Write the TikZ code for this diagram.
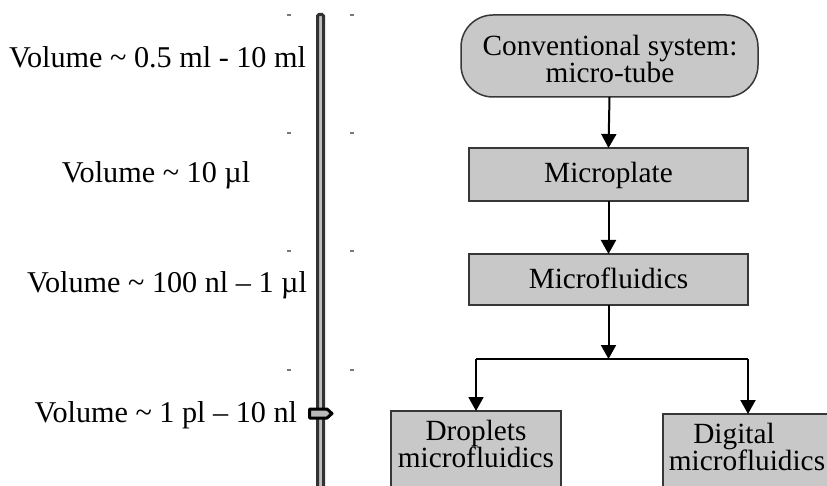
\documentclass[tikz,border=0pt]{standalone}
\usepackage{fontspec}
\setmainfont{Liberation Serif}
\usetikzlibrary{arrows.meta}
\definecolor{boxfill}{RGB}{200,200,200}
\definecolor{boxline}{RGB}{55,55,55}
\definecolor{barfill}{RGB}{190,190,190}
\definecolor{barline}{RGB}{50,50,50}
\definecolor{tickcol}{RGB}{120,120,120}
\tikzset{
  every node/.style={font=\fontsize{29.3}{27}\selectfont, inner sep=0pt, outer sep=0pt},
  lbl/.style={anchor=base},
  vlbl/.style={anchor=base east, font=\fontsize{30.2}{30}\selectfont},
  stagebox/.style={draw=boxline, fill=boxfill, line width=1.5pt},
  flow/.style={-{Triangle[width=15pt,length=14pt]}, line width=2pt, draw=black},
  link/.style={line width=2pt, draw=black},
  tick/.style={draw=tickcol, line width=1.2pt},
}
\begin{document}
\begin{tikzpicture}[x=1pt,y=-1pt]
\useasboundingbox (0,0) rectangle (827,486);
\clip (0,0) rectangle (827,486);

% volume scale bar
\draw[draw=barline, fill=barfill, line width=3pt, rounded corners=1.5pt] (317.5,14.5) rectangle (323.5,500);

% ticks
\foreach \ty in {15,133,251,370}{
  \draw[tick] (287,\ty) -- (291,\ty);
  \draw[tick] (350,\ty) -- (354,\ty);
}

% marker
\draw[draw=black, fill=gray!55, line width=3pt, line join=round]
  (309.5,409) -- (327,409) -- (332,413.5) -- (327,418) -- (309.5,418) -- cycle;

% volume labels
\node[vlbl] (v1) at (306,68) {Volume \textasciitilde{} 0.5 ml - 10 ml};
\node[vlbl, anchor=base] (v2) at (156,183) {Volume \textasciitilde{} 10 µl};
\node[vlbl] (v3) at (307,292) {Volume \textasciitilde{} 100 nl – 1 µl};
\node[vlbl] (v4) at (297,422) {Volume \textasciitilde{} 1 pl – 10 nl};

% flow boxes
\node[stagebox, rounded corners=32pt, minimum width=297pt, minimum height=82pt] (tube) at (609.5,56) {};
\node[lbl] (tubeA) at (610,56) {Conventional system:};
\node[lbl] (tubeB) at (610,83) {micro-tube};

\node[stagebox, minimum width=279pt, minimum height=53pt] (plate) at (608.5,174.5) {};
\node[lbl] (plateT) at (608.5,183) {Microplate};

\node[stagebox, minimum width=279pt, minimum height=51pt] (fluid) at (608.5,279.5) {};
\node[lbl] (fluidT) at (608.5,288) {Microfluidics};

\node[stagebox, minimum width=170pt, minimum height=90pt] (drop) at (476,456) {};
\node[lbl] (dropA) at (476,440) {Droplets};
\node[lbl] (dropB) at (476,467) {microfluidics};

\node[stagebox, minimum width=170pt, minimum height=90pt] (dig) at (748,459) {};
\node[lbl] (digA) at (734,443) {Digital};
\node[lbl] (digB) at (747,470) {microfluidics};

% connectors
\coordinate (j) at (608.5,359);
\draw[flow] (tube.south) -- (plate.north);
\draw[flow] (plate.south) -- (fluid.north);
\draw[flow] (fluid.south) -- (j);
\draw[link] (drop.north |- j) -- (dig.north |- j);
\draw[flow] (drop.north |- j) -- (drop.north);
\draw[flow] (dig.north |- j) -- (dig.north);
\end{tikzpicture}
\end{document}
